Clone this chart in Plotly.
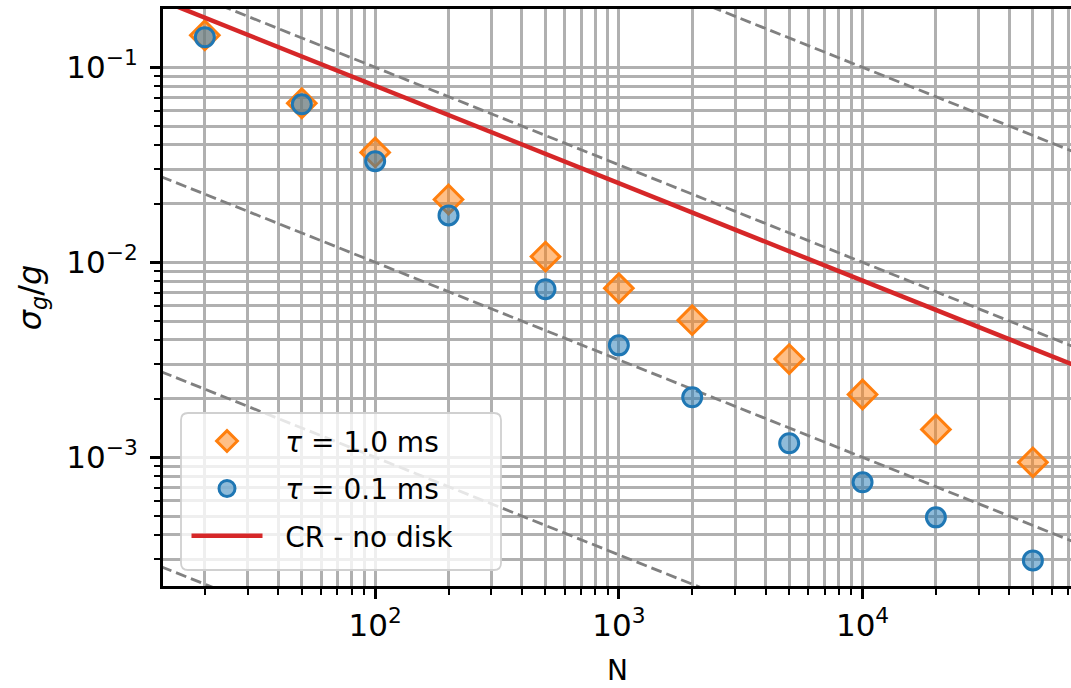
import plotly.graph_objects as go

# ---- data ----
N_vals = [20, 50, 100, 200, 500, 1000, 2000, 5000, 10000, 20000, 50000]
sigma_tau_1ms = [0.146, 0.0654, 0.0366, 0.0210, 0.0107, 0.00736, 0.00505, 0.00319, 0.00210, 0.00139, 0.000942]
sigma_tau_01ms = [0.1426, 0.0646, 0.0330, 0.0174, 0.00728, 0.00375, 0.00203, 0.00118, 0.000744, 0.000492, 0.000296]

# CR - no disk (straight line in log-log), endpoints
cr_N = [10, 100000]
cr_sigma = [0.254, 0.00255]

# grey dashed guide lines (slope -1/2 in log-log), endpoints
guide_N = [10, 100000]
guide_a = [3.162, 0.03162]
guide_b = [0.3162, 0.003162]
guide_c = [0.03162, 0.0003162]
guide_d = [0.003162, 0.00003162]
guide_e = [0.0003162, 0.000003162]

# ticks
x_major = [100, 1000, 10000]
x_major_text = ["10<sup>2</sup>", "10<sup>3</sup>", "10<sup>4</sup>"]
y_major = [0.001, 0.01, 0.1]
y_major_text = ["10<sup>−3</sup>", "10<sup>−2</sup>", "10<sup>−1</sup>"]
x_minor = [m * d for d in [10, 100, 1000, 10000] for m in range(2, 10)]
y_minor = [m * d for d in [0.0001, 0.001, 0.01, 0.1] for m in range(2, 10)]

FONT = "DejaVu Sans"
GRID = "#b0b0b0"
W, H = 1071, 688
ML, MR, MT, MB = 163, 0, 9, 102
PW, PH = W - ML - MR, H - MT - MB

fig = go.Figure()

for g in [guide_a, guide_b, guide_c, guide_d, guide_e]:
    fig.add_trace(go.Scatter(x=guide_N, y=g, mode="lines", showlegend=False,
                             line=dict(color="gray", width=2.8, dash="11px,5px"),
                             hoverinfo="skip"))

NB = "\u00a0" * 2
fig.add_trace(go.Scatter(
    x=N_vals, y=sigma_tau_1ms, mode="markers", name=NB + "<i>τ</i> = 1.0 ms",
    legendgroup="a",
    marker=dict(symbol="diamond", size=22, color="rgba(255,127,14,0.5)",
                line=dict(color="#ff7f0e", width=3))))
fig.add_trace(go.Scatter(
    x=N_vals, y=sigma_tau_01ms, mode="markers", name=NB + "<i>τ</i> = 0.1 ms",
    legendgroup="b",
    marker=dict(symbol="circle", size=19, color="rgba(31,119,180,0.5)",
                line=dict(color="#1f77b4", width=3))))
fig.add_trace(go.Scatter(
    x=cr_N, y=cr_sigma, mode="lines", name=NB + "CR - no disk", legendgroup="c",
    line=dict(color="#d62728", width=4.5)))

axis_common = dict(
    type="log", showline=True, linecolor="black", linewidth=3,
    ticks="outside", ticklen=10, tickwidth=2.5, tickcolor="black",
    showgrid=True, gridcolor=GRID, gridwidth=2.5,
    tickmode="array", tickfont=dict(family=FONT, size=31, color="black"),
    minor=dict(tickmode="array", ticks="outside", ticklen=6, tickwidth=2,
               tickcolor="black", showgrid=True, gridcolor=GRID, gridwidth=2.5),
    zeroline=False,
)

fig.update_xaxes(**axis_common)
fig.update_yaxes(**axis_common)
fig.update_xaxes(range=[1.1294, 4.8554], tickvals=x_major, ticktext=x_major_text,
                 minor_tickvals=x_minor, mirror=True)
fig.update_yaxes(range=[-3.66, -0.701], tickvals=y_major, ticktext=y_major_text,
                 minor_tickvals=y_minor, ticklabelstandoff=6,
                 title=dict(text="<i>σ<sub>g</sub></i>/<i>g</i>",
                            font=dict(family=FONT, size=32, color="black"),
                            standoff=16))


def px(xp):
    return (xp - ML) / PW


def py(yp):
    return (H - MB - yp) / PH


# x-axis title
fig.add_annotation(text="N", xref="paper", yref="paper", x=0.5, y=py(688),
                   xanchor="center", yanchor="bottom", showarrow=False, borderpad=0,
                   font=dict(family=FONT, size=28, color="black"))

# legend frame (rounded box)
bx0, bx1, by0, by1, r = 181, 501, 413, 570, 7
path = (f"M{px(bx0 + r)},{py(by0)} L{px(bx1 - r)},{py(by0)} "
        f"Q{px(bx1)},{py(by0)} {px(bx1)},{py(by0 + r)} "
        f"L{px(bx1)},{py(by1 - r)} Q{px(bx1)},{py(by1)} {px(bx1 - r)},{py(by1)} "
        f"L{px(bx0 + r)},{py(by1)} Q{px(bx0)},{py(by1)} {px(bx0)},{py(by1 - r)} "
        f"L{px(bx0)},{py(by0 + r)} Q{px(bx0)},{py(by0)} {px(bx0 + r)},{py(by0)} Z")
fig.add_shape(type="path", path=path, xref="paper", yref="paper", layer="above",
              fillcolor="rgba(255,255,255,0.8)", line=dict(color="#d0d0d0", width=1.8))

fig.update_layout(
    width=W, height=H,
    margin=dict(l=ML, r=MR, t=MT, b=MB, autoexpand=False),
    plot_bgcolor="white", paper_bgcolor="white",
    font=dict(family=FONT, color="black"),
    legend=dict(x=px(186.5), y=0.294, xanchor="left", yanchor="top",
                bgcolor="rgba(0,0,0,0)", borderwidth=0,
                font=dict(family=FONT, size=28, color="black"),
                tracegroupgap=8, itemwidth=71),
)

fig.write_html("out.html")
